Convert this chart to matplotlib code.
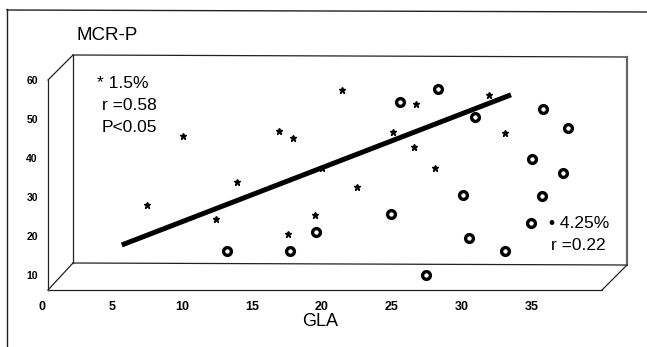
import matplotlib
matplotlib.use("Agg")
import matplotlib.pyplot as plt
from matplotlib.lines import Line2D

plt.rcParams['font.family'] = ['Liberation Sans', 'DejaVu Sans']

# ---- data ----
stars_x = [10.1, 21.4, 26.7, 16.9, 17.9, 25.1, 26.6, 28.1, 31.9, 33.1,
           7.5, 13.9, 12.4, 17.6, 19.5, 22.5, 20.0]
stars_y = [45.6, 57.4, 53.8, 46.9, 45.1, 46.7, 42.8, 37.4, 56.2, 46.4,
           28.0, 33.8, 24.4, 20.5, 25.4, 32.6, 37.4]
circ_x = [25.6, 28.3, 30.9, 35.8, 37.6, 35.0, 37.2, 30.1, 35.7, 34.9,
          30.5, 33.1, 24.9, 19.6, 17.7, 27.4, 13.2]
circ_y = [54.4, 57.7, 50.5, 52.6, 47.7, 39.7, 36.2, 30.5, 30.3, 23.3,
          19.5, 16.2, 25.6, 21.0, 16.2, 10.0, 16.2]
fit_x = [5.7, 33.5]
fit_y = [17.7, 56.2]
x_ticks = [0, 5, 10, 15, 20, 25, 30, 35]
y_ticks = [10, 20, 30, 40, 50, 60]

W, H = 647, 347
fig = plt.figure(figsize=(W / 100, H / 100), dpi=100)

def fx(px):
    return px / W

def fy(py):
    return 1 - py / H

# front face axes: x=0 at px 42, x=40 at px 602 ; y=60 at py 80, bottom at py 290
ax = fig.add_axes([fx(42), fy(290), (602 - 42) / W, (290 - 80) / H])
ax.set_xlim(0, 40)
ax.set_ylim(60 - 210 / 3.9, 60)
for s in ax.spines.values():
    s.set_visible(False)
ax.patch.set_alpha(0)
ax.set_xticks(x_ticks)
ax.set_yticks(y_ticks)
ax.set_xticklabels([str(t) for t in x_ticks], fontsize=9, fontweight='bold')
ax.set_yticklabels([str(t) for t in y_ticks], fontsize=7.5, fontweight='bold')
ax.tick_params(axis='x', length=0, pad=8)
ax.tick_params(axis='y', length=0, pad=3)

# data marks
ax.plot(fit_x, fit_y, color='black', lw=3.6, solid_capstyle='butt', zorder=2, clip_on=False)
ax.plot(stars_x, stars_y, ls='none', marker='*', ms=5, color='black', zorder=3, clip_on=False)
ax.plot(circ_x, circ_y, ls='none', marker='o', ms=5.6, mfc='white', mec='black', mew=2.4,
        zorder=3, clip_on=False)

# pseudo-3D frame (decoration, pixel coordinates)
def seg(p1, p2, color='#222222', lw=0.9):
    fig.add_artist(Line2D([fx(p1[0]), fx(p2[0])], [fy(p1[1]), fy(p2[1])],
                          transform=fig.transFigure, color=color, lw=lw))

# outer frame
seg((7, 9), (7, 347), lw=1.0)
seg((7, 10), (647, 12), lw=1.0)
# back plane
seg((73, 55), (627, 57))
seg((73, 55), (73, 263))
seg((73, 263), (627, 265))
seg((627, 57), (627, 265), color='#666666', lw=1.6)
# front face edges
seg((48, 80), (48, 290))
seg((48, 290), (602, 290))
# diagonals
seg((48, 80), (73, 55))
seg((48, 290), (73, 263))
seg((602, 290), (627, 265))

# texts
fig.text(fx(77), fy(35), 'MCR-P', fontsize=13.5, va='center', ha='left')
fig.text(fx(97), fy(84), '* 1.5%', fontsize=12.5, va='center', ha='left')
fig.text(fx(102), fy(106), 'r =0.58', fontsize=12.5, va='center', ha='left')
fig.text(fx(102), fy(127), 'P<0.05', fontsize=12.5, va='center', ha='left')
fig.text(fx(549), fy(223), '• 4.25%', fontsize=12.5, va='center', ha='left')
fig.text(fx(551), fy(245), 'r =0.22', fontsize=12.5, va='center', ha='left')
fig.text(fx(320), fy(322), 'GLA', fontsize=13, va='center', ha='center')

fig.savefig('out.png', dpi=100)
